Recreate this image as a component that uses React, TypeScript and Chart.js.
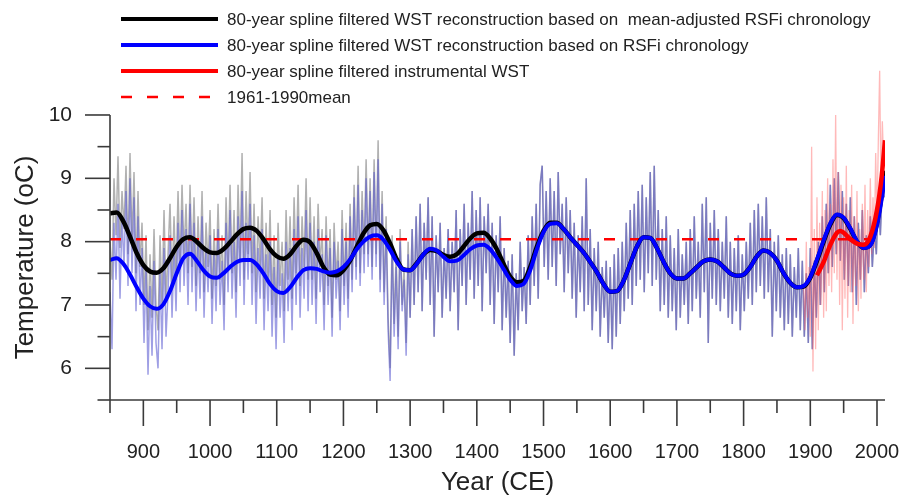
import React, { useEffect, useRef } from 'react';
import { Chart, registerables } from 'chart.js';

Chart.register(...registerables);

// ---------- data ----------
// annual WST reconstruction (RSFi chronology), every 3rd year from 850
const annualStart = 850;
const annualStep = 3;
const blueAnnual = [
  7.2, 6.3, 8.3, 7.4, 8.6, 7.1, 8.4, 7.6, 8.8, 7.3,
  9.0, 7.5, 8.7, 6.9, 8.4, 7.0, 7.9, 6.4, 7.6, 5.9,
  7.3, 6.2, 7.7, 6.4, 6.0, 7.5, 6.3, 7.9, 6.5, 7.2,
  8.1, 6.8, 7.9, 6.9, 8.3, 7.2, 8.5, 7.3, 8.2, 7.0,
  8.6, 7.2, 8.3, 6.9, 8.0, 7.1, 8.4, 6.8, 7.9, 7.2,
  8.1, 6.7, 7.8, 6.9, 8.2, 7.0, 7.7, 6.6, 8.3, 7.2,
  8.5, 7.1, 8.0, 6.8, 8.4, 7.3, 8.8, 7.0, 8.3, 7.4,
  8.6, 7.0, 8.1, 6.7, 7.9, 7.1, 8.2, 6.6, 7.8, 6.9,
  8.0, 6.5, 7.6, 6.3, 7.8, 6.8, 7.5, 6.4, 8.0, 6.9,
  7.9, 6.6, 8.2, 7.0, 8.4, 6.8, 7.9, 7.1, 8.5, 6.9,
  8.3, 7.0, 8.0, 6.7, 8.2, 7.2, 7.8, 6.6, 8.1, 7.0,
  7.9, 6.5, 8.0, 7.1, 7.7, 6.6, 8.2, 7.0, 8.0, 6.8,
  8.4, 7.2, 8.7, 7.4, 8.9, 7.3, 8.5, 7.5, 9.0, 7.6,
  8.8, 7.4, 9.1, 7.6, 9.3, 7.2, 8.6, 7.0, 8.2, 6.6,
  5.8, 7.9, 6.5, 7.6, 6.3, 8.0, 6.9, 7.4, 6.2, 7.8,
  6.8, 8.2, 7.0, 8.4, 7.2, 8.6, 6.9, 8.3, 7.4, 8.7,
  7.0, 8.4, 6.5, 8.1, 7.2, 8.3, 6.8, 7.9, 7.1, 8.2,
  6.9, 8.0, 7.2, 8.5, 6.6, 8.2, 7.3, 8.6, 7.0, 8.3,
  7.4, 8.8, 7.1, 8.5, 7.3, 8.7, 6.9, 8.4, 7.5, 8.6,
  7.0, 8.3, 6.7, 8.1, 7.2, 8.4, 6.6, 7.9, 6.8, 7.7,
  6.4, 7.8, 6.2, 7.5, 6.6, 8.0, 6.9, 7.6, 6.7, 8.1,
  7.0, 8.4, 7.3, 8.6, 7.1, 8.9, 9.2, 7.6, 8.8, 7.4,
  9.0, 7.6, 8.8, 7.3, 9.1, 7.8, 8.6, 7.2, 8.7, 7.5,
  8.5, 7.1, 8.3, 6.8, 8.1, 7.2, 8.4, 6.9, 9.0, 7.0,
  8.2, 6.6, 7.9, 6.9, 8.0, 6.5, 7.6, 6.8, 7.7, 6.4,
  7.6, 6.3, 7.8, 6.5, 7.9, 6.7, 8.0, 6.9, 8.3, 7.1,
  8.5, 7.0, 8.6, 7.3, 8.8, 7.4, 8.9, 7.2, 8.7, 7.5,
  9.1, 7.3, 9.2, 7.4, 8.5, 6.9, 8.2, 7.0, 8.4, 6.8,
  8.1, 6.9, 7.9, 6.6, 8.2, 6.8, 7.8, 7.0, 8.0, 6.7,
  8.2, 6.9, 8.4, 7.1, 8.0, 6.8, 8.6, 7.2, 8.7, 6.4,
  8.3, 7.1, 8.5, 7.0, 8.2, 6.9, 8.0, 7.1, 8.4, 6.8,
  8.0, 6.7, 7.9, 6.9, 8.1, 6.6, 7.8, 6.9, 8.0, 7.1,
  8.3, 7.0, 8.5, 7.2, 8.6, 7.3, 8.4, 7.1, 8.7, 7.2,
  8.2, 6.5, 8.0, 6.9, 8.1, 6.8, 7.8, 6.6, 7.9, 6.7,
  7.8, 6.5, 7.6, 6.8, 7.9, 6.6, 7.7, 6.5, 7.5, 6.4,
  7.9, 6.3, 7.7, 6.8, 8.0, 7.0, 8.4, 7.2, 8.6, 7.5,
  8.9, 7.6, 9.0, 7.8, 9.1, 7.7, 8.8, 7.4, 8.6, 7.3,
  8.7, 7.2, 8.4, 7.0, 8.3, 7.4, 8.5, 7.2, 8.1, 7.5,
  8.4, 7.6, 8.2, 7.8, 8.7, 8.1, 8.9, 8.7,
];

// annual mean-adjusted reconstruction, every 3rd year 850-1297 (later years coincide with the RSFi series)
const grayAnnualEarly = [
  8.0, 7.4, 9.0, 8.1, 9.35, 7.9, 8.8, 8.2, 9.2, 7.8,
  9.4, 8.0, 9.1, 7.5, 8.8, 7.6, 8.3, 7.0, 8.1, 6.6,
  7.8, 6.8, 8.2, 7.0, 6.6, 8.1, 7.0, 8.5, 7.1, 7.8,
  8.6, 7.3, 8.4, 7.4, 8.8, 7.6, 8.9, 7.8, 8.6, 7.5,
  8.9, 7.6, 8.7, 7.3, 8.4, 7.5, 8.8, 7.2, 8.3, 7.6,
  8.5, 7.1, 8.2, 7.3, 8.6, 7.4, 8.1, 7.0, 8.7, 7.6,
  8.9, 7.5, 8.5, 7.2, 8.9, 7.7, 9.4, 7.4, 8.8, 7.8,
  9.1, 7.5, 8.6, 7.2, 8.4, 7.6, 8.7, 7.1, 8.3, 7.4,
  8.5, 7.0, 8.1, 6.8, 8.3, 7.3, 8.0, 6.9, 8.5, 7.4,
  8.4, 7.1, 8.7, 7.5, 8.9, 7.3, 8.4, 7.6, 9.0, 7.4,
  8.7, 7.4, 8.4, 7.1, 8.6, 7.6, 8.2, 7.0, 8.4, 7.3,
  8.2, 6.8, 8.3, 7.4, 8.0, 6.9, 8.5, 7.3, 8.3, 7.1,
  8.6, 7.4, 8.9, 7.6, 9.2, 7.5, 8.8, 7.8, 9.3, 7.8,
  9.0, 7.6, 9.3, 7.8, 9.6, 7.4, 8.8, 7.2, 8.4, 6.8,
  6.0, 8.1, 6.7, 7.8, 6.5, 8.2, 7.0, 7.6, 6.4, 8.0,
];

// instrumental WST, every 2nd year from 1890
const pinkStart = 1890;
const pinkStep = 2;
const pinkAnnual = [
  7.3, 6.6, 8.0, 6.8, 7.6, 6.5, 9.5, 5.95, 8.2, 6.3,
  8.7, 6.6, 8.3, 7.0, 8.8, 6.8, 8.5, 6.9, 9.0, 7.3,
  8.6, 7.2, 9.3, 7.5, 10.0, 7.4, 9.1, 7.0, 8.9, 6.6,
  8.7, 7.1, 9.2, 6.8, 8.5, 7.2, 8.9, 6.7, 8.4, 7.3,
  8.8, 6.9, 8.2, 7.1, 8.6, 7.4, 8.9, 7.2, 8.5, 7.6,
  9.0, 7.8, 8.7, 7.9, 9.4, 8.3, 9.6, 10.7, 8.8, 9.9,
  9.2,
];

// 80-year spline filtered curves, 850-2010 every 10 years, plus 2012
const splineYears = [
  850, 860, 870, 880, 890, 900, 910, 920, 930, 940,
  950, 960, 970, 980, 990, 1000, 1010, 1020, 1030, 1040,
  1050, 1060, 1070, 1080, 1090, 1100, 1110, 1120, 1130, 1140,
  1150, 1160, 1170, 1180, 1190, 1200, 1210, 1220, 1230, 1240,
  1250, 1260, 1270, 1280, 1290, 1300, 1310, 1320, 1330, 1340,
  1350, 1360, 1370, 1380, 1390, 1400, 1410, 1420, 1430, 1440,
  1450, 1460, 1470, 1480, 1490, 1500, 1510, 1520, 1530, 1540,
  1550, 1560, 1570, 1580, 1590, 1600, 1610, 1620, 1630, 1640,
  1650, 1660, 1670, 1680, 1690, 1700, 1710, 1720, 1730, 1740,
  1750, 1760, 1770, 1780, 1790, 1800, 1810, 1820, 1830, 1840,
  1850, 1860, 1870, 1880, 1890, 1900, 1910, 1920, 1930, 1940,
  1950, 1960, 1970, 1980, 1990, 2000, 2010, 2012,
];
const blackSpline = [
  8.45, 8.46, 8.32, 8.08, 7.82, 7.63, 7.53, 7.51, 7.58, 7.74,
  7.92, 8.04, 8.07, 8.0, 7.9, 7.83, 7.82, 7.88, 7.99, 8.11,
  8.2, 8.22, 8.17, 8.04, 7.88, 7.77, 7.73, 7.8, 7.94, 8.03,
  7.99, 7.82, 7.6, 7.48, 7.47, 7.55, 7.7, 7.92, 8.13, 8.26,
  8.28, 8.18, 7.97, 7.72, 7.56, 7.55, 7.66, 7.8, 7.87, 7.85,
  7.79, 7.76, 7.8, 7.92, 8.05, 8.13, 8.14, 8.05, 7.88, 7.65,
  7.45, 7.36, 7.38, 7.6, 7.92, 8.17, 8.3, 8.3, 8.2, 8.07,
  7.95, 7.83, 7.68, 7.52, 7.33, 7.21, 7.22, 7.38, 7.65, 7.92,
  8.07, 8.06, 7.9, 7.68, 7.5, 7.42, 7.42, 7.5, 7.6, 7.69,
  7.72, 7.69, 7.6, 7.5, 7.46, 7.48, 7.6, 7.77, 7.86, 7.82,
  7.7, 7.5, 7.35, 7.28, 7.29, 7.43, 7.7, 8.0, 8.27, 8.42,
  8.37, 8.2, 8.0, 7.9, 7.95, 8.3, 8.95, 9.12,
];
const blueSpline = [
  7.71, 7.74, 7.65, 7.48, 7.28, 7.1, 6.98, 6.94, 7.01, 7.22,
  7.5, 7.74, 7.81, 7.7, 7.55, 7.45, 7.43, 7.5, 7.6, 7.68,
  7.71, 7.71, 7.64, 7.5, 7.33, 7.22, 7.19, 7.28, 7.43, 7.55,
  7.58, 7.57, 7.53, 7.51, 7.53, 7.6, 7.72, 7.88, 8.0, 8.08,
  8.1, 8.03, 7.87, 7.68, 7.56, 7.55, 7.65, 7.8, 7.89, 7.86,
  7.76, 7.69, 7.7, 7.78, 7.88, 7.94, 7.95, 7.88, 7.74, 7.57,
  7.4, 7.3, 7.33, 7.55, 7.88, 8.15, 8.28, 8.29, 8.2, 8.07,
  7.95, 7.83, 7.68, 7.52, 7.33, 7.21, 7.22, 7.38, 7.65, 7.92,
  8.07, 8.06, 7.9, 7.68, 7.5, 7.42, 7.42, 7.5, 7.6, 7.69,
  7.72, 7.69, 7.6, 7.5, 7.46, 7.48, 7.6, 7.77, 7.86, 7.82,
  7.7, 7.5, 7.35, 7.28, 7.3, 7.44, 7.72, 8.02, 8.29, 8.43,
  8.38, 8.21, 8.01, 7.9, 7.94, 8.26, 8.88, 9.04,
];
const redYears = [1910, 1920, 1930, 1940, 1945, 1950, 1960, 1970, 1980, 1990, 2000, 2007, 2012];
const redSpline = [7.47, 7.68, 7.95, 8.14, 8.17, 8.14, 8.04, 7.97, 7.95, 8.08, 8.5, 9.03, 9.6];

const meanYears = [850, 1990];
const meanValue = 8.04;

const xMajorTicks = [900, 1000, 1100, 1200, 1300, 1400, 1500, 1600, 1700, 1800, 1900, 2000];
const xMinorTicks = [850, 950, 1050, 1150, 1250, 1350, 1450, 1550, 1650, 1750, 1850, 1950];
const yMajorTicks = [6, 7, 8, 9, 10];
const yMinorTicks = [5.5, 6.5, 7.5, 8.5, 9.5];

const legendLabels = [
  '80-year spline filtered WST reconstruction based on  mean-adjusted RSFi chronology',
  '80-year spline filtered WST reconstruction based on RSFi chronology',
  '80-year spline filtered instrumental WST',
  '1961-1990mean',
];
const xTitle = 'Year (CE)';
const yTitle = 'Temperature (oC)';

// ---------- helpers ----------
const FONT = '"Liberation Sans", Arial, Helvetica, sans-serif';

function regular(start: number, step: number, vals: number[]) {
  return vals.map((v, i) => ({ x: start + i * step, y: v }));
}
function paired(xs: number[], ys: number[]) {
  return xs.map((x, i) => ({ x, y: ys[i] }));
}

const decorPlugin = {
  id: 'decor',
  afterDraw(chart: any) {
    const ctx = chart.ctx as CanvasRenderingContext2D;
    const xs = chart.scales.x;
    const ys = chart.scales.y;
    const x0 = xs.getPixelForValue(850);
    const yb = ys.getPixelForValue(5.5);
    const yt = ys.getPixelForValue(10);
    ctx.save();
    ctx.strokeStyle = '#3a3a3a';
    ctx.lineWidth = 1.6;
    const seg = (a: number, b: number, c: number, d: number) => {
      ctx.beginPath();
      ctx.moveTo(a, b);
      ctx.lineTo(c, d);
      ctx.stroke();
    };
    seg(x0, yb, x0, yt);
    seg(x0, yb, xs.getPixelForValue(2012), yb);
    xMajorTicks.forEach((v) => {
      const p = xs.getPixelForValue(v);
      seg(p, yb, p, yb + 26);
    });
    xMinorTicks.forEach((v) => {
      const p = xs.getPixelForValue(v);
      seg(p, yb, p, yb + 13);
    });
    yMajorTicks.forEach((v) => {
      const p = ys.getPixelForValue(v);
      seg(x0 - 25, p, x0, p);
    });
    yMinorTicks.forEach((v) => {
      const p = ys.getPixelForValue(v);
      seg(x0 - 12.5, p, x0, p);
    });

    // axis titles
    ctx.fillStyle = '#222';
    ctx.font = `26px ${FONT}`;
    ctx.textAlign = 'center';
    ctx.textBaseline = 'alphabetic';
    ctx.fillText(xTitle, (chart.chartArea.left + chart.chartArea.right) / 2, 490);
    ctx.save();
    ctx.translate(33, (yb + yt) / 2);
    ctx.rotate(-Math.PI / 2);
    ctx.fillText(yTitle, 0, 0);
    ctx.restore();

    // legend
    const styles = [
      { color: '#000000', dash: [] as number[], width: 4 },
      { color: '#0000ff', dash: [] as number[], width: 4 },
      { color: '#ff0000', dash: [] as number[], width: 4 },
      { color: '#ff0000', dash: [11, 15], width: 2.5 },
    ];
    ctx.font = `17px ${FONT}`;
    ctx.textAlign = 'left';
    ctx.textBaseline = 'middle';
    legendLabels.forEach((lab, i) => {
      const y = 19 + i * 26;
      const st = styles[i];
      ctx.strokeStyle = st.color;
      ctx.lineWidth = st.width;
      ctx.setLineDash(st.dash);
      ctx.beginPath();
      ctx.moveTo(121, y);
      ctx.lineTo(218, y);
      ctx.stroke();
      ctx.setLineDash([]);
      ctx.fillStyle = '#222';
      ctx.fillText(lab, 227, y + 1);
    });
    ctx.restore();
  },
};

export default function App() {
  const ref = useRef<HTMLCanvasElement>(null);
  useEffect(() => {
    if (!ref.current) return;
    const grayData = [
      ...regular(annualStart, annualStep, grayAnnualEarly),
      ...regular(annualStart, annualStep, blueAnnual).slice(grayAnnualEarly.length),
    ];
    const chart = new Chart(ref.current, {
      type: 'line',
      data: {
        datasets: [
          {
            label: 'red spline',
            data: paired(redYears, redSpline),
            borderColor: '#ff0000',
            borderWidth: 4.5,
            cubicInterpolationMode: 'monotone',
            pointRadius: 0,
          },
          {
            label: 'blue spline',
            data: paired(splineYears, blueSpline),
            borderColor: '#0000ff',
            borderWidth: 4,
            cubicInterpolationMode: 'monotone',
            pointRadius: 0,
          },
          {
            label: 'black spline',
            data: paired(splineYears, blackSpline),
            borderColor: '#000000',
            borderWidth: 4.5,
            cubicInterpolationMode: 'monotone',
            pointRadius: 0,
          },
          {
            label: 'mean',
            data: meanYears.map((x) => ({ x, y: meanValue })),
            borderColor: '#ff0000',
            borderWidth: 2.5,
            borderDash: [11, 15],
            pointRadius: 0,
          },
          {
            label: 'instrumental annual',
            data: regular(pinkStart, pinkStep, pinkAnnual),
            borderColor: 'rgba(255,100,100,0.45)',
            borderWidth: 1.3,
            pointRadius: 0,
          },
          {
            label: 'RSFi annual',
            data: regular(annualStart, annualStep, blueAnnual),
            borderColor: 'rgba(80,80,205,0.55)',
            borderWidth: 1.5,
            pointRadius: 0,
          },
          {
            label: 'mean-adjusted annual',
            data: grayData,
            borderColor: 'rgba(135,135,135,0.65)',
            borderWidth: 1.5,
            pointRadius: 0,
          },
        ],
      },
      options: {
        animation: false,
        responsive: false,
        devicePixelRatio: 1,
        layout: { padding: { left: 0, top: 64, right: 19, bottom: 0 } },
        plugins: { legend: { display: false }, tooltip: { enabled: false } },
        scales: {
          x: {
            type: 'linear',
            min: 850,
            max: 2012,
            grid: { display: false, drawTicks: false },
            border: { display: false },
            afterBuildTicks: (s: any) => {
              s.ticks = xMajorTicks.map((v) => ({ value: v }));
            },
            afterFit: (s: any) => {
              s.height = 96;
              s.paddingLeft = 0;
              s.paddingRight = 0;
            },
            ticks: {
              autoSkip: false,
              maxRotation: 0,
              padding: 40,
              color: '#222',
              font: { family: FONT, size: 20 },
              callback: (v: any) => String(v),
            },
          },
          y: {
            type: 'linear',
            min: 5.5,
            max: 10.805,
            grid: { display: false, drawTicks: false },
            border: { display: false },
            afterBuildTicks: (s: any) => {
              s.ticks = yMajorTicks.map((v) => ({ value: v }));
            },
            afterFit: (s: any) => {
              s.width = 110;
              s.paddingTop = 0;
              s.paddingBottom = 0;
            },
            ticks: {
              padding: 38,
              color: '#222',
              font: { family: FONT, size: 21 },
              callback: (v: any) => String(v),
            },
          },
        },
      },
      plugins: [decorPlugin],
    } as any);
    return () => chart.destroy();
  }, []);
  return (
    <div style={{ position: 'fixed', left: 0, top: 0, width: 904, height: 496, background: '#fff' }}>
      <canvas ref={ref} width={904} height={496} />
    </div>
  );
}
